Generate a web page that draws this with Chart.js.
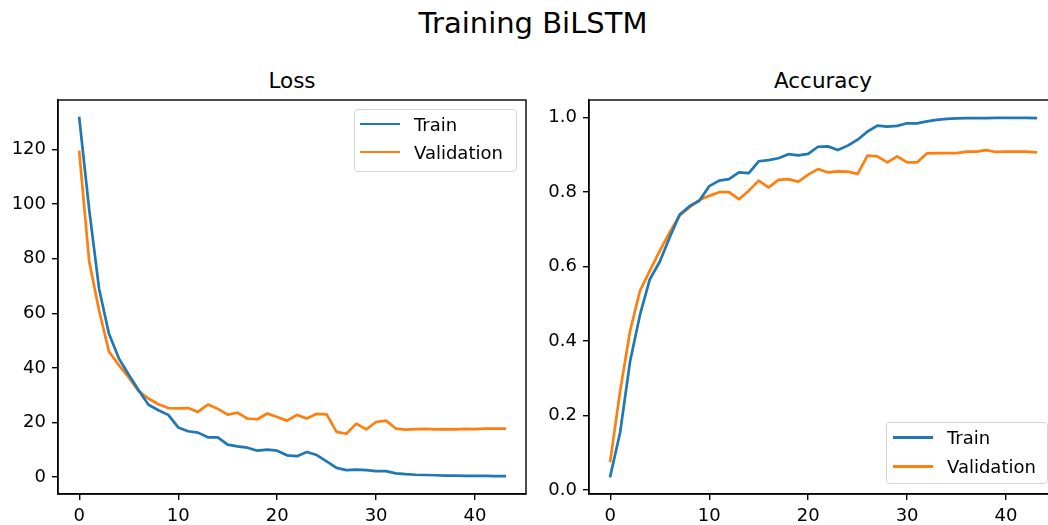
<!DOCTYPE html>
<html lang="en">
<head>
  <meta charset="UTF-8" />
  <title>Training BiLSTM</title>
  <script src="https://cdn.jsdelivr.net/npm/chart.js"></script>
  <style>
    body { margin: 0; background: #fff; font-family: "DejaVu Sans", sans-serif; color: #000; }
    #fig { position: relative; width: 1048px; height: 525px; overflow: hidden; }
    .abs { position: absolute; }
    .suptitle { left: 0; width: 1066px; top: 9px; font-size: 29px; line-height: 29px; text-align: center; }
    .subtitle { width: 468px; top: 70px; font-size: 21.5px; line-height: 21.5px; text-align: center; }
    .legend { background: rgba(255,255,255,0.8); border: 1px solid #d5d5d5; border-radius: 4px; box-sizing: border-box; font-size: 18px; }
    .legend .row { display: flex; align-items: center; height: 28px; }
    .legend .swatch { width: 40px; height: 2.7px; margin-right: 14px; }
    canvas { position: absolute; }
  </style>
</head>
<body>
<div id="fig">
  <div class="abs suptitle">Training BiLSTM</div>
  <div class="abs subtitle" style="left:58px">Loss</div>
  <div class="abs subtitle" style="left:589px">Accuracy</div>

  <canvas id="lossChart" width="540" height="435" style="left:0;top:90px"></canvas>
  <canvas id="accChart" width="540" height="435" style="left:531px;top:90px"></canvas>

  <div class="abs legend" style="left:354px;top:109px;width:163px;height:63px;padding:0 0 0 5px">
    <div class="row"><span class="swatch" style="background:#1f77b4"></span>Train</div>
    <div class="row"><span class="swatch" style="background:#ff7f0e"></span>Validation</div>
  </div>
  <div class="abs legend" style="left:886px;top:422px;width:162px;height:62px;padding:0 0 0 6px">
    <div class="row" style="height:29px"><span class="swatch" style="background:#1f77b4"></span>Train</div>
    <div class="row" style="height:29px"><span class="swatch" style="background:#ff7f0e"></span>Validation</div>
  </div>
</div>

<script>
// epochs and values
const epochs = [0,1,2,3,4,5,6,7,8,9,10,11,12,13,14,15,16,17,18,19,20,21,22,23,24,25,26,27,28,29,30,31,32,33,34,35,36,37,38,39,40,41,42,43];

const lossTrain = [131.5, 98, 69, 52.5, 43.5, 37.5, 31.8, 26.5, 24.5, 22.8,
  18.2, 16.8, 16.3, 14.6, 14.6, 11.9, 11.3, 10.8, 9.7, 10.1,
  9.7, 8.0, 7.7, 9.2, 8.1, 5.8, 3.4, 2.6, 2.8, 2.6,
  2.2, 2.2, 1.4, 1.1, 0.9, 0.8, 0.7, 0.6, 0.6, 0.5,
  0.5, 0.5, 0.4, 0.4];
const lossVal = [119, 79, 61, 46, 41, 36.5, 31.5, 28.8, 26.7, 25.3,
  25.2, 25.3, 23.9, 26.6, 25.0, 22.9, 23.6, 21.4, 21.2, 23.3,
  22.0, 20.7, 22.8, 21.5, 23.2, 23.0, 16.6, 15.9, 19.6, 17.5,
  20.2, 20.7, 17.8, 17.4, 17.6, 17.7, 17.5, 17.6, 17.5, 17.7,
  17.6, 17.8, 17.8, 17.8];

const accTrain = [0.037, 0.155, 0.345, 0.47, 0.566, 0.613, 0.678, 0.739, 0.762, 0.777,
  0.816, 0.831, 0.835, 0.853, 0.851, 0.883, 0.886, 0.891, 0.902, 0.899,
  0.903, 0.922, 0.923, 0.913, 0.925, 0.941, 0.963, 0.979, 0.976, 0.978,
  0.985, 0.985, 0.99, 0.994, 0.997, 0.998, 0.999, 0.999, 0.999, 0.9995,
  0.9995, 0.9995, 0.9995, 0.999];
const accVal = [0.078, 0.266, 0.427, 0.535, 0.589, 0.642, 0.692, 0.737, 0.759, 0.779,
  0.79, 0.8, 0.8, 0.781, 0.804, 0.831, 0.813, 0.833, 0.835, 0.828,
  0.847, 0.862, 0.853, 0.856, 0.855, 0.849, 0.898, 0.896, 0.88, 0.896,
  0.88, 0.88, 0.904, 0.905, 0.905, 0.905, 0.909, 0.909, 0.913, 0.908,
  0.909, 0.909, 0.909, 0.907];

const xTicks = [0, 10, 20, 30, 40];
const lossTicks = [0, 20, 40, 60, 80, 100, 120];
const accTicks = [0.0, 0.2, 0.4, 0.6, 0.8, 1.0];

const BLUE = '#1f77b4', ORANGE = '#ff7f0e';

Chart.defaults.font.family = '"DejaVu Sans", sans-serif';
Chart.defaults.font.size = 18;
Chart.defaults.color = '#000';

// matplotlib-like autoscale: 5% margin on each side
function limits(arrs) {
  const all = arrs.flat();
  const lo = Math.min(...all), hi = Math.max(...all), m = (hi - lo) * 0.05;
  return [lo - m, hi + m];
}

// top + right spines
const frame = {
  id: 'frame',
  afterDatasetsDraw(chart) {
    const { ctx, chartArea: a } = chart;
    ctx.save();
    ctx.strokeStyle = '#000';
    ctx.lineWidth = 1.4;
    ctx.strokeRect(a.left, a.top, a.right - a.left, a.bottom - a.top);
    ctx.restore();
  }
};

function series(ys) { return epochs.map((x, i) => ({ x, y: ys[i] })); }

function makeChart(id, train, val, yTicks, fmt) {
  const [xmin, xmax] = limits([epochs]);
  const [ymin, ymax] = limits([train, val]);
  const axis = (ticks, size) => ({
    type: 'linear',
    grid: { drawOnChartArea: false, drawTicks: true, tickLength: 6, color: '#000', lineWidth: 1.4 },
    border: { display: true, color: '#000', width: 1.4 },
    ticks: { padding: 6, autoSkip: false, maxRotation: 0, color: '#000', callback: fmt },
    afterBuildTicks: s => { s.ticks = ticks.map(v => ({ value: v })); },
    afterFit: s => {
      if (s.isHorizontal()) { s.height = size; s.paddingLeft = 0; s.paddingRight = 0; }
      else { s.width = size; s.paddingTop = 0; s.paddingBottom = 0; }
    }
  });
  const xAxis = axis(xTicks, 31);
  xAxis.min = xmin; xAxis.max = xmax;
  xAxis.ticks.callback = v => String(v);
  const yAxis = axis(yTicks, 58);
  yAxis.min = ymin; yAxis.max = ymax;

  return new Chart(document.getElementById(id), {
    type: 'line',
    data: {
      datasets: [
        { label: 'Train', data: series(train), borderColor: BLUE },
        { label: 'Validation', data: series(val), borderColor: ORANGE }
      ]
    },
    options: {
      responsive: false,
      animation: false,
      layout: { padding: { top: 10, right: 14, left: 0, bottom: 0 } },
      elements: {
        line: { borderWidth: 2.7, tension: 0, borderJoinStyle: 'round', borderCapStyle: 'square', fill: false },
        point: { radius: 0, hoverRadius: 0 }
      },
      plugins: { legend: { display: false }, tooltip: { enabled: false } },
      scales: { x: xAxis, y: yAxis }
    },
    plugins: [frame]
  });
}

makeChart('lossChart', lossTrain, lossVal, lossTicks, v => String(v));
makeChart('accChart', accTrain, accVal, accTicks, v => v.toFixed(1));
</script>
</body>
</html>
